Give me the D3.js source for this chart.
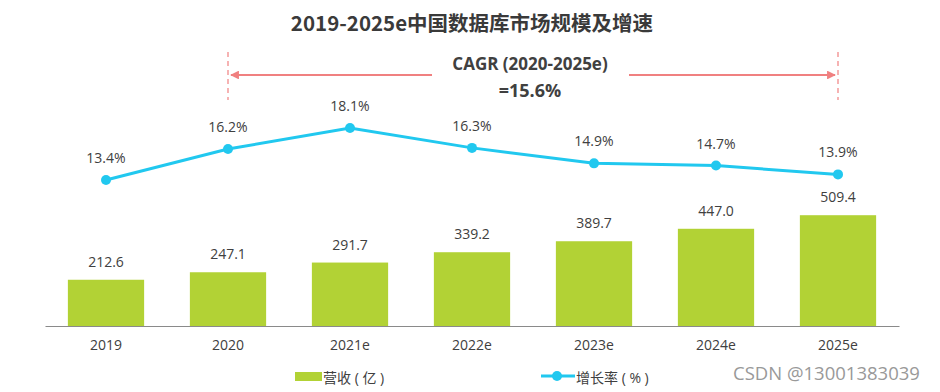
<!DOCTYPE html>
<html>
  <head>
    <meta charset="utf-8">
    <title></title>
    <script type="text/javascript" src="https://d3js.org/d3.v7.min.js"></script>
    <style media="screen">
      body { margin: 0; background: #fff; }
      text { font-family: "Open Sans", "Noto Sans CJK SC", sans-serif; fill: #404040; }
    </style>
  </head>
  <body>

    <script type="text/javascript">

      var years = ['2019', '2020', '2021e', '2022e', '2023e', '2024e', '2025e'];
      var revenue = [212.6, 247.1, 291.7, 339.2, 389.7, 447.0, 509.4];
      var growth = [13.4, 16.2, 18.1, 16.3, 14.9, 14.7, 13.9];
      var cagrLabel = ['CAGR (2020-2025e)', '=15.6%'];
      var cagrRange = ['2020', '2025e'];

      var w = 940;
      var h = 392;
      var baseY = 326;

      var svg = d3.select('body')
        .append('svg')
        .attr('width', w)
        .attr('height', h);

      var xscale = d3.scaleBand()
        .domain(years)
        .range([45, 899])
        .paddingInner(0.375)
        .paddingOuter(0.1875);

      var yBar = d3.scaleLinear()
        .domain([0, 600])
        .range([baseY, baseY - 130.5]);

      var yLine = d3.scaleLinear()
        .domain([0, 20])
        .range([328, 107]);

      var cx = function(d) { return xscale(d) + xscale.bandwidth() / 2; };

      // title
      svg.append('text')
        .attr('x', 472)
        .attr('y', 31)
        .attr('text-anchor', 'middle')
        .style('font-family', '"Noto Sans CJK SC", sans-serif')
        .style('font-weight', 'bold')
        .style('font-size', '20.5px')
        .style('fill', '#3a3a3a')
        .text('2019-2025e中国数据库市场规模及增速');

      // bars
      svg.selectAll('rect.bar')
        .data(revenue)
        .enter()
        .append('rect')
        .attr('class', 'bar')
        .attr('x', function(d, i) { return xscale(years[i]); })
        .attr('width', xscale.bandwidth())
        .attr('y', function(d) { return yBar(d); })
        .attr('height', function(d) { return baseY - yBar(d); })
        .attr('fill', '#b2d235');

      svg.selectAll('text.barlabel')
        .data(revenue)
        .enter()
        .append('text')
        .attr('class', 'barlabel')
        .attr('x', function(d, i) { return cx(years[i]); })
        .attr('y', function(d) { return yBar(d) - 13; })
        .attr('text-anchor', 'middle')
        .style('font-size', '14px')
        .text(function(d) { return d.toFixed(1); });

      // x axis
      var xAxis = d3.axisBottom(xscale).tickSize(0).tickPadding(14);
      var gx = svg.append('g')
        .attr('class', 'x axis')
        .attr('transform', 'translate(0,' + baseY + ')')
        .call(xAxis);
      gx.select('.domain').attr('stroke', '#8a8a8a').attr('stroke-width', 1.2);
      gx.selectAll('text')
        .style('font-family', '"Open Sans", sans-serif')
        .style('font-size', '14px')
        .style('fill', '#404040');

      // growth line
      var line = d3.line()
        .x(function(d, i) { return cx(years[i]); })
        .y(function(d) { return yLine(d); });

      svg.append('path')
        .datum(growth)
        .attr('d', line)
        .attr('fill', 'none')
        .attr('stroke', '#21c8ef')
        .attr('stroke-width', 3);

      svg.selectAll('circle.pt')
        .data(growth)
        .enter()
        .append('circle')
        .attr('class', 'pt')
        .attr('cx', function(d, i) { return cx(years[i]); })
        .attr('cy', function(d) { return yLine(d); })
        .attr('r', 5)
        .attr('fill', '#21c8ef');

      svg.selectAll('text.ptlabel')
        .data(growth)
        .enter()
        .append('text')
        .attr('class', 'ptlabel')
        .attr('x', function(d, i) { return cx(years[i]); })
        .attr('y', function(d) { return yLine(d) - 17; })
        .attr('text-anchor', 'middle')
        .style('font-size', '14px')
        .text(function(d) { return d.toFixed(1) + '%'; });

      // CAGR annotation
      var red = '#f08080';
      var x1 = cx(cagrRange[0]);
      var x2 = cx(cagrRange[1]);
      var midX = 530;

      svg.append('defs').append('marker')
        .attr('id', 'arr')
        .attr('viewBox', '0 0 10 10')
        .attr('refX', 9)
        .attr('refY', 5)
        .attr('markerWidth', 4)
        .attr('markerHeight', 4)
        .attr('orient', 'auto-start-reverse')
        .append('path')
        .attr('d', 'M0,0L10,5L0,10z')
        .attr('fill', red);

      [x1, x2].forEach(function(x) {
        svg.append('line')
          .attr('x1', x).attr('x2', x)
          .attr('y1', 52).attr('y2', 100)
          .attr('stroke', red)
          .attr('stroke-width', 1.2)
          .attr('stroke-dasharray', '5,4');
      });

      svg.append('line')
        .attr('x1', 432).attr('x2', x1 + 3)
        .attr('y1', 75).attr('y2', 75)
        .attr('stroke', red).attr('stroke-width', 2.2)
        .attr('marker-end', 'url(#arr)');

      svg.append('line')
        .attr('x1', 629).attr('x2', x2 - 3)
        .attr('y1', 75).attr('y2', 75)
        .attr('stroke', red).attr('stroke-width', 2.2)
        .attr('marker-end', 'url(#arr)');

      svg.selectAll('text.cagr')
        .data(cagrLabel)
        .enter()
        .append('text')
        .attr('class', 'cagr')
        .attr('x', midX)
        .attr('y', function(d, i) { return 70 + i * 27; })
        .attr('text-anchor', 'middle')
        .style('font-weight', 'bold')
        .style('font-size', function(d, i) { return i ? '18px' : '17px'; })
        .text(function(d) { return d; });

      // legend
      svg.append('rect')
        .attr('x', 295).attr('y', 372)
        .attr('width', 27).attr('height', 9)
        .attr('fill', '#b2d235');
      svg.append('text')
        .attr('x', 323).attr('y', 383)
        .style('font-size', '14px')
        .text('营收 ( 亿 )');

      svg.append('line')
        .attr('x1', 541).attr('x2', 575)
        .attr('y1', 376).attr('y2', 376)
        .attr('stroke', '#21c8ef').attr('stroke-width', 3);
      svg.append('circle')
        .attr('cx', 557).attr('cy', 376).attr('r', 5)
        .attr('fill', '#21c8ef');
      svg.append('text')
        .attr('x', 576).attr('y', 383)
        .style('font-size', '14px')
        .text('增长率 ( % )');

      svg.append('text')
        .attr('x', 733).attr('y', 380)
        .style('font-family', '"Open Sans", sans-serif')
        .style('font-size', '18.5px')
        .style('fill', '#999')
        .text('CSDN @13001383039');

    </script>

  </body>
</html>
